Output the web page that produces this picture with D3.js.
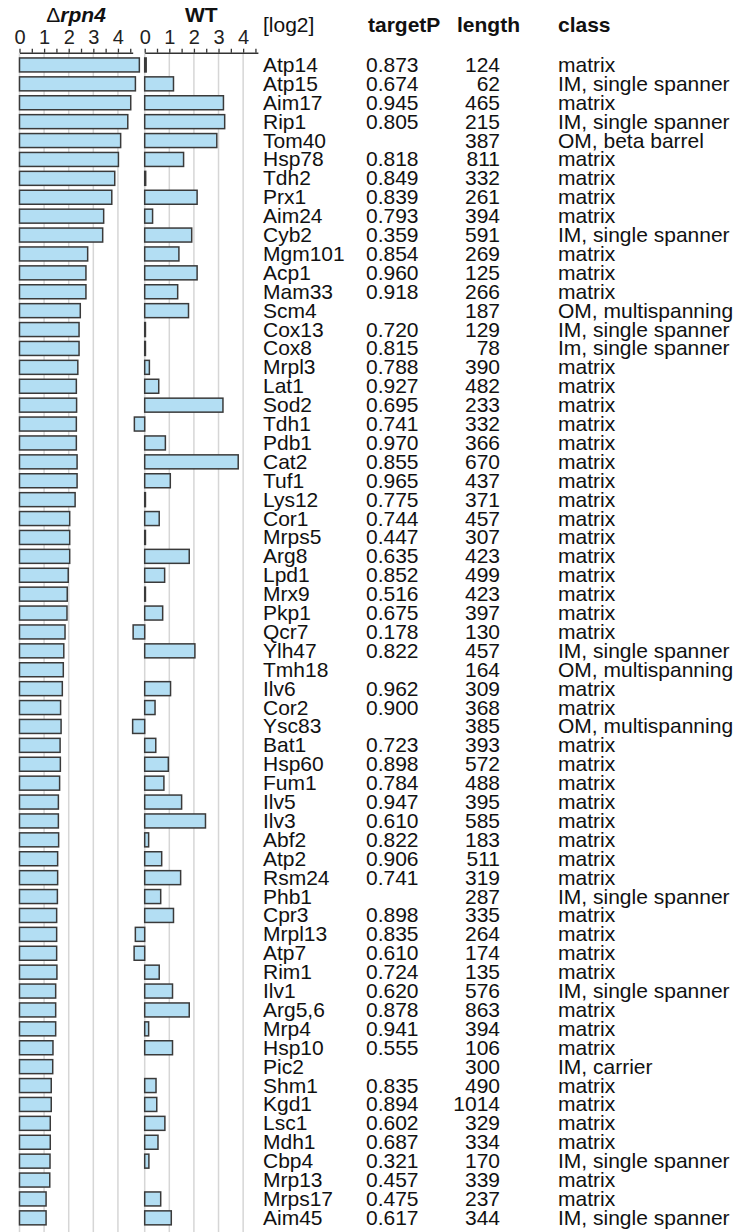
<!doctype html>
<html>

<head>
    <meta charset="utf-8">
    <script src="https://cdnjs.cloudflare.com/ajax/libs/d3/7.8.5/d3.min.js"></script>
    <style>
        body { margin: 0; background: #fff; }
        svg { display: block; font-family: "Liberation Sans", Arial, sans-serif; }
    </style>
</head>

<body>
    <div id="chart"></div>

    <script>
        var w = 739;
        var h = 1232;

        // protein names, top to bottom
        var proteins = ["Atp14", "Atp15", "Aim17", "Rip1", "Tom40", "Hsp78", "Tdh2", "Prx1", "Aim24", "Cyb2",
            "Mgm101", "Acp1", "Mam33", "Scm4", "Cox13", "Cox8", "Mrpl3", "Lat1", "Sod2", "Tdh1",
            "Pdb1", "Cat2", "Tuf1", "Lys12", "Cor1", "Mrps5", "Arg8", "Lpd1", "Mrx9", "Pkp1",
            "Qcr7", "Ylh47", "Tmh18", "Ilv6", "Cor2", "Ysc83", "Bat1", "Hsp60", "Fum1", "Ilv5",
            "Ilv3", "Abf2", "Atp2", "Rsm24", "Phb1", "Cpr3", "Mrpl13", "Atp7", "Rim1", "Ilv1",
            "Arg5,6", "Mrp4", "Hsp10", "Pic2", "Shm1", "Kgd1", "Lsc1", "Mdh1", "Cbp4", "Mrp13",
            "Mrps17", "Aim45"];

        // log2 values, delta rpn4
        var rpn4Values = [4.87, 4.71, 4.52, 4.40, 4.11, 4.02, 3.87, 3.75, 3.42, 3.38,
            2.77, 2.70, 2.70, 2.47, 2.42, 2.42, 2.37, 2.31, 2.32, 2.31,
            2.31, 2.34, 2.34, 2.26, 2.04, 2.04, 2.04, 1.98, 1.94, 1.93,
            1.85, 1.80, 1.78, 1.74, 1.67, 1.69, 1.65, 1.66, 1.63, 1.58,
            1.58, 1.59, 1.55, 1.55, 1.54, 1.51, 1.51, 1.51, 1.52, 1.47,
            1.47, 1.47, 1.36, 1.35, 1.29, 1.29, 1.25, 1.25, 1.24, 1.23,
            1.08, 1.08];

        // log2 values, WT (null = no bar)
        var wtValues = [0.06, 1.17, 3.20, 3.25, 2.93, 1.58, 0.04, 2.13, 0.32, 1.91,
            1.39, 2.13, 1.34, 1.78, 0.03, 0.03, 0.19, 0.57, 3.18, -0.42,
            0.84, 3.80, 1.04, 0.03, 0.59, 0.03, 1.81, 0.81, 0.03, 0.73,
            -0.47, 2.04, null, 1.05, 0.42, -0.49, 0.45, 0.96, 0.78, 1.50,
            2.47, 0.16, 0.69, 1.46, 0.65, 1.17, -0.38, -0.43, 0.59, 1.13,
            1.81, 0.16, 1.13, null, 0.46, 0.49, 0.82, 0.54, 0.17, null,
            0.65, 1.08];

        var targetP = ["0.873", "0.674", "0.945", "0.805", "", "0.818", "0.849", "0.839", "0.793", "0.359",
            "0.854", "0.960", "0.918", "", "0.720", "0.815", "0.788", "0.927", "0.695", "0.741",
            "0.970", "0.855", "0.965", "0.775", "0.744", "0.447", "0.635", "0.852", "0.516", "0.675",
            "0.178", "0.822", "", "0.962", "0.900", "", "0.723", "0.898", "0.784", "0.947",
            "0.610", "0.822", "0.906", "0.741", "", "0.898", "0.835", "0.610", "0.724", "0.620",
            "0.878", "0.941", "0.555", "", "0.835", "0.894", "0.602", "0.687", "0.321", "0.457",
            "0.475", "0.617"];

        var lengths = [124, 62, 465, 215, 387, 811, 332, 261, 394, 591,
            269, 125, 266, 187, 129, 78, 390, 482, 233, 332,
            366, 670, 437, 371, 457, 307, 423, 499, 423, 397,
            130, 457, 164, 309, 368, 385, 393, 572, 488, 395,
            585, 183, 511, 319, 287, 335, 264, 174, 135, 576,
            863, 394, 106, 300, 490, 1014, 329, 334, 170, 339,
            237, 344];

        var classes = ["matrix", "IM, single spanner", "matrix", "IM, single spanner", "OM, beta barrel",
            "matrix", "matrix", "matrix", "matrix", "IM, single spanner",
            "matrix", "matrix", "matrix", "OM, multispanning", "IM, single spanner",
            "Im, single spanner", "matrix", "matrix", "matrix", "matrix",
            "matrix", "matrix", "matrix", "matrix", "matrix",
            "matrix", "matrix", "matrix", "matrix", "matrix",
            "matrix", "IM, single spanner", "OM, multispanning", "matrix", "matrix",
            "OM, multispanning", "matrix", "matrix", "matrix", "matrix",
            "matrix", "matrix", "matrix", "matrix", "IM, single spanner",
            "matrix", "matrix", "matrix", "matrix", "IM, single spanner",
            "matrix", "matrix", "matrix", "IM, carrier", "matrix",
            "matrix", "matrix", "matrix", "IM, single spanner", "matrix",
            "matrix", "IM, single spanner"];

        var tickValues = [0, 0.5, 1, 1.5, 2, 2.5, 3, 3.5, 4, 4.5];
        var gridValues = [0, 1, 2, 3, 4];

        var axisY = 52.7;
        var fontSize = 21;

        var yScale = d3.scaleBand()
            .domain(proteins)
            .range([55.5, 55.5 + proteins.length * 18.9])
            .paddingInner(0.26)
            .paddingOuter(0.13);

        var xLeft = d3.scaleLinear().domain([0, 4.6]).range([19.5, 132.7]);
        var xRight = d3.scaleLinear().domain([0, 4.6]).range([144.7, 257.9]);

        var svg = d3.select("#chart")
            .append("svg")
            .attr("width", w)
            .attr("height", h);

        function drawPanel(x, values, title) {
            var g = svg.append("g");

            // gridlines
            g.selectAll("line.grid")
                .data(gridValues)
                .enter()
                .append("line")
                .attr("class", "grid")
                .attr("x1", function (d) { return x(d); })
                .attr("x2", function (d) { return x(d); })
                .attr("y1", axisY)
                .attr("y2", h)
                .attr("stroke", "#d6d6d6")
                .attr("stroke-width", 1.5);

            // axis on top
            var axis = d3.axisTop(x)
                .tickValues(tickValues)
                .tickFormat(function (d) { return Number.isInteger(d) ? d : ""; })
                .tickSize(4)
                .tickSizeOuter(0)
                .tickPadding(4.5);

            var ax = g.append("g")
                .attr("transform", "translate(0," + axisY + ")")
                .call(axis);
            ax.select(".domain").attr("stroke", "#333").attr("stroke-width", 1.5);
            ax.selectAll(".tick line").attr("stroke", "#333").attr("stroke-width", 1.3);
            ax.selectAll(".tick text")
                .attr("font-family", "Liberation Sans, Arial, sans-serif")
                .style("font-size", "20px")
                .attr("fill", "#222");

            // bars
            g.selectAll("rect")
                .data(values.map(function (v, i) { return { name: proteins[i], v: v }; })
                    .filter(function (d) { return d.v !== null; }))
                .enter()
                .append("rect")
                .attr("x", function (d) { return x(Math.min(0, d.v)); })
                .attr("y", function (d) { return yScale(d.name); })
                .attr("width", function (d) { return Math.abs(x(d.v) - x(0)); })
                .attr("height", yScale.bandwidth())
                .attr("fill", "#b3def3")
                .attr("stroke", "#3a3a3a")
                .attr("stroke-width", 1.5);

            // title
            var mid = (x.range()[0] + x.range()[1]) / 2;
            return g.append("text")
                .attr("x", mid)
                .attr("y", 21.7)
                .attr("text-anchor", "middle")
                .style("font-size", "21px")
                .style("font-weight", "bold")
                .attr("fill", "#111");
        }

        var t1 = drawPanel(xLeft, rpn4Values);
        t1.append("tspan").text("Δ").style("font-weight", "normal");
        t1.append("tspan").text("rpn4").style("font-style", "italic");

        var t2 = drawPanel(xRight, wtValues);
        t2.text("WT");

        // column headers
        var headers = [
            { text: "[log2]", x: 263, bold: false, anchor: "start" },
            { text: "targetP", x: 368, bold: true, anchor: "start" },
            { text: "length", x: 457, bold: true, anchor: "start" },
            { text: "class", x: 558, bold: true, anchor: "start" }
        ];
        svg.selectAll("text.header")
            .data(headers)
            .enter()
            .append("text")
            .attr("class", "header")
            .attr("x", function (d) { return d.x; })
            .attr("y", 32.3)
            .attr("text-anchor", function (d) { return d.anchor; })
            .style("font-size", fontSize + "px")
            .style("font-weight", function (d) { return d.bold ? "bold" : "normal"; })
            .attr("fill", "#111")
            .text(function (d) { return d.text; });

        // table columns
        function column(values, xPos, anchor) {
            svg.append("g")
                .selectAll("text")
                .data(values)
                .enter()
                .append("text")
                .attr("x", xPos)
                .attr("y", function (d, i) { return yScale(proteins[i]) + yScale.bandwidth() / 2 + 7; })
                .attr("text-anchor", anchor)
                .style("font-size", fontSize + "px")
                .attr("fill", "#111")
                .text(function (d) { return d; });
        }

        column(proteins, 263, "start");
        column(targetP, 366, "start");
        column(lengths, 500, "end");
        column(classes, 558, "start");
    </script>
</body>

</html>
